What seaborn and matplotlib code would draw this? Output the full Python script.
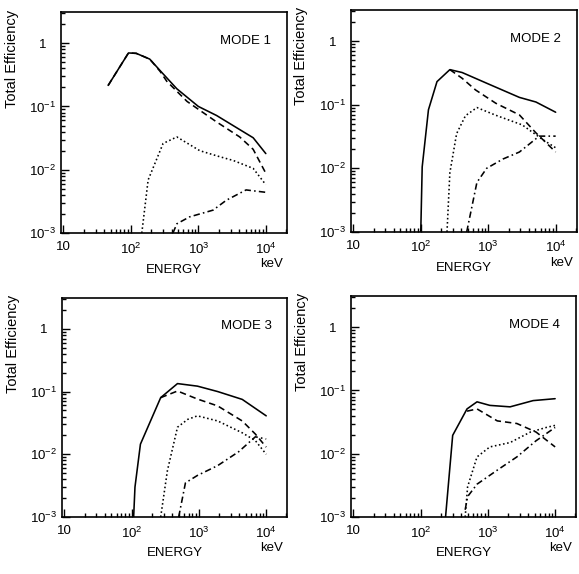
import numpy as np
import pandas as pd
import matplotlib
matplotlib.use("Agg")
import matplotlib.pyplot as plt
import matplotlib.ticker as mticker
import seaborn as sns

# ---------------- data ----------------
modes = ["MODE 1", "MODE 2", "MODE 3", "MODE 4"]
components = ["total", "dashed", "dotted", "dashdot"]

# MODE 1
m1_total_E = [46, 92, 120, 190, 270, 480, 1000, 1860, 6500, 10000]
m1_total_v = [0.215, 0.70, 0.69, 0.56, 0.37, 0.19, 0.10, 0.072, 0.032, 0.018]
m1_dash_E = [46, 92, 120, 190, 270, 340, 680, 1860, 4100, 6500, 10000]
m1_dash_v = [0.215, 0.70, 0.69, 0.56, 0.36, 0.25, 0.12, 0.057, 0.033, 0.021, 0.0088]
m1_dot_E = [145, 180, 300, 480, 1050, 2100, 3300, 6500, 10000]
m1_dot_v = [0.001, 0.0069, 0.026, 0.033, 0.020, 0.016, 0.014, 0.0105, 0.0058]
m1_dd_E = [420, 480, 740, 1650, 2600, 5100, 10000]
m1_dd_v = [0.001, 0.0014, 0.0018, 0.0023, 0.0033, 0.0048, 0.0044]

# MODE 2
m2_total_E = [100, 105, 130, 174, 270, 410, 1020, 2900, 5100, 10000]
m2_total_v = [0.001, 0.0105, 0.083, 0.23, 0.355, 0.32, 0.21, 0.13, 0.11, 0.076]
m2_dash_E = [270, 410, 650, 1300, 2900, 5100, 10000]
m2_dash_v = [0.355, 0.26, 0.17, 0.105, 0.069, 0.036, 0.018]
m2_dot_E = [245, 270, 340, 460, 680, 1300, 3200, 6500, 10000]
m2_dot_v = [0.001, 0.0085, 0.035, 0.067, 0.09, 0.068, 0.048, 0.028, 0.021]
m2_dd_E = [480, 680, 950, 1660, 2900, 5700, 10000]
m2_dd_v = [0.001, 0.006, 0.010, 0.014, 0.018, 0.032, 0.032]

# MODE 3
m3_total_E = [107, 112, 135, 270, 480, 950, 1900, 4400, 10000]
m3_total_v = [0.001, 0.003, 0.0145, 0.080, 0.134, 0.122, 0.10, 0.075, 0.041]
m3_dash_E = [270, 480, 950, 1900, 4400, 6900, 10000]
m3_dash_v = [0.080, 0.102, 0.076, 0.059, 0.034, 0.021, 0.013]
m3_dot_E = [270, 340, 480, 680, 950, 1900, 4400, 6900, 10000]
m3_dot_v = [0.001, 0.0055, 0.027, 0.036, 0.041, 0.034, 0.022, 0.0165, 0.010]
m3_dd_E = [500, 630, 950, 1900, 3900, 6900, 10000]
m3_dd_v = [0.001, 0.0035, 0.0046, 0.0066, 0.011, 0.019, 0.0175]

# MODE 4
m4_total_E = [235, 300, 490, 690, 1070, 2140, 4700, 10000]
m4_total_v = [0.001, 0.0195, 0.051, 0.066, 0.058, 0.055, 0.069, 0.074]
m4_dash_E = [490, 690, 1380, 2700, 5200, 10000]
m4_dash_v = [0.047, 0.051, 0.033, 0.030, 0.022, 0.0128]
m4_dot_E = [460, 500, 690, 1070, 2140, 4300, 7400, 10000]
m4_dot_v = [0.001, 0.0030, 0.0089, 0.0128, 0.015, 0.022, 0.026, 0.028]
m4_dd_E = [460, 500, 690, 1380, 2700, 5200, 10000]
m4_dd_v = [0.0013, 0.0021, 0.0033, 0.0055, 0.0089, 0.016, 0.026]

series = {
    "MODE 1": [(m1_total_E, m1_total_v), (m1_dash_E, m1_dash_v), (m1_dot_E, m1_dot_v), (m1_dd_E, m1_dd_v)],
    "MODE 2": [(m2_total_E, m2_total_v), (m2_dash_E, m2_dash_v), (m2_dot_E, m2_dot_v), (m2_dd_E, m2_dd_v)],
    "MODE 3": [(m3_total_E, m3_total_v), (m3_dash_E, m3_dash_v), (m3_dot_E, m3_dot_v), (m3_dd_E, m3_dd_v)],
    "MODE 4": [(m4_total_E, m4_total_v), (m4_dash_E, m4_dash_v), (m4_dot_E, m4_dot_v), (m4_dd_E, m4_dd_v)],
}

rows = []
for mode in modes:
    for comp, (E, v) in zip(components, series[mode]):
        for e, y in zip(E, v):
            rows.append(dict(mode=mode, comp=comp, energy=e, eff=y))
df = pd.DataFrame(rows)

# ---------------- style ----------------
sns.set_theme(style="ticks")
plt.rcParams["font.family"] = ["Liberation Sans", "DejaVu Sans"]
plt.rcParams["mathtext.fontset"] = "custom"
plt.rcParams["mathtext.rm"] = "Liberation Sans"
plt.rcParams["mathtext.it"] = "Liberation Sans"

dashes = {"total": "", "dashed": (4, 2.5), "dotted": (1, 1.6), "dashdot": (4, 2, 1, 2)}

fig = plt.figure(figsize=(5.79, 5.74), dpi=100)
positions = [
    (0.1054, 0.594, 0.390, 0.385),
    (0.606, 0.596, 0.390, 0.387),
    (0.107, 0.0993, 0.389, 0.3815),
    (0.606, 0.0993, 0.389, 0.385),
]


def xfmt(v, pos):
    e = int(round(np.log10(v)))
    return "10" if e == 1 else r"$10^{%d}$" % e


def yfmt(v, pos):
    e = int(round(np.log10(v)))
    return "1" if e == 0 else r"$10^{%d}$" % e


for mode, pos in zip(modes, positions):
    ax = fig.add_axes(pos)
    sub = df[df["mode"] == mode]
    sns.lineplot(data=sub, x="energy", y="eff", style="comp", style_order=components,
                 dashes=dashes, color="black", linewidth=1.15, estimator=None,
                 sort=True, legend=False, ax=ax)
    ax.set_xscale("log")
    ax.set_yscale("log")
    ax.set_xlim(9.2, 2.05e4)
    ax.set_ylim(1e-3, 3.1)
    ax.xaxis.set_major_locator(mticker.FixedLocator([10, 100, 1000, 10000]))
    ax.yaxis.set_major_locator(mticker.FixedLocator([1e-3, 1e-2, 1e-1, 1]))
    ax.xaxis.set_minor_locator(mticker.LogLocator(base=10, subs=np.arange(2, 10), numticks=20))
    ax.yaxis.set_minor_locator(mticker.LogLocator(base=10, subs=np.arange(2, 10), numticks=20))
    ax.xaxis.set_major_formatter(mticker.FuncFormatter(xfmt))
    ax.yaxis.set_major_formatter(mticker.FuncFormatter(yfmt))
    ax.xaxis.set_minor_formatter(mticker.NullFormatter())
    ax.yaxis.set_minor_formatter(mticker.NullFormatter())
    ax.tick_params(which="both", direction="in", color="black", width=1.0,
                   top=False, right=False, labelsize=9.5, labelcolor="black")
    ax.tick_params(which="major", length=6)
    ax.tick_params(axis="x", which="major", pad=6)
    ax.tick_params(axis="y", which="major", pad=13)
    ax.tick_params(which="minor", length=3)
    for lab in ax.get_yticklabels():
        lab.set_horizontalalignment("center")
    for s in ax.spines.values():
        s.set_color("black")
        s.set_linewidth(1.2)
    ax.set_xlabel("ENERGY", fontsize=9.5, color="black", labelpad=5)
    ax.set_ylabel("Total Efficiency", fontsize=10.5, color="black")
    ax.yaxis.set_label_coords(-0.188, 0.79)
    ax.text(0.982, -0.142, "keV", transform=ax.transAxes, ha="right", va="center",
            fontsize=9.5, color="black")
    ax.text(0.93, 0.87, mode, transform=ax.transAxes, ha="right", va="center",
            fontsize=9.5, color="black")

fig.savefig("out.png", dpi=100, facecolor="white")
